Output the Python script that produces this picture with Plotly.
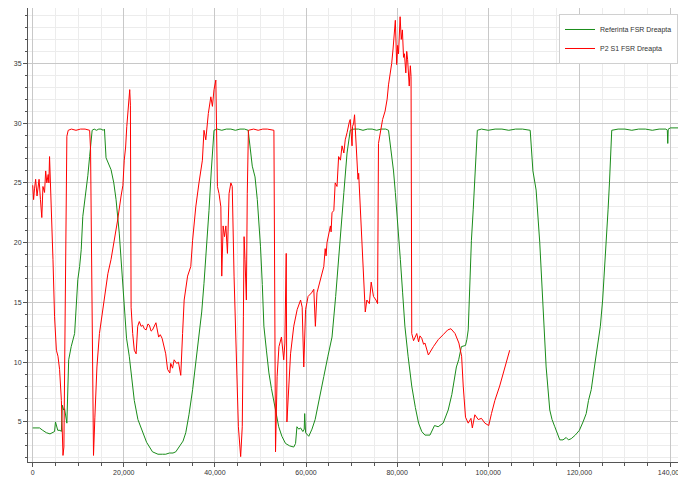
import plotly.graph_objects as go

# Referinta FSR Dreapta (green)
ref_x = [0, 800, 1500, 2200, 3000, 3800, 4400, 4800, 5000, 5300, 5500, 6000, 6300, 6500, 6800, 7000, 7300, 7500,
         7900, 8450, 9200, 9600, 9900, 10300, 10650, 11000, 11400, 11750, 12100, 12500, 12800, 13050,
         13500, 14000, 14500, 15000, 15500, 15750,
         16100, 16600, 17200, 17800, 18300, 19000, 19500, 20100, 20600, 21200, 21700, 22300, 23100, 24100, 25000,
         26300, 27500, 28500, 29200, 30000, 30800, 31400, 32200, 33000, 33600, 34300, 35100, 35800, 36500, 37100,
         37600, 38200, 38700, 39200, 39800,
         40500, 41500, 42500, 43500, 44500, 45500, 46500, 47300,
         48200, 48800, 49300, 50000, 50400, 50750, 51300, 51850, 52400, 52950, 53500, 54000, 54700, 55500, 56400,
         57300, 57700, 58000, 58400, 58800, 59300, 59600, 59700, 59800, 59900, 60600, 61300, 62000, 62900, 63900,
         64800, 65700, 66500, 67200, 67800, 68300, 69000, 69700,
         70500, 71500, 72500, 73500, 74500, 75500, 76500, 77500, 78100,
         78800, 79200, 79600, 80200, 80700, 81200, 81700, 82400, 83200, 84000, 84700, 85400, 86100, 87200, 87700,
         88200, 89000, 90100, 90700, 91200, 92000, 92500, 93000, 93500, 94100, 95000, 95300, 95600, 95900, 96300,
         96700, 97000, 97300, 97600,
         98500, 100000, 101500, 103000, 104500, 106000, 107500, 109200,
         109800, 110500, 111300, 112000, 112700, 113500, 114000, 114600, 115200, 115700, 116400, 117100, 117600,
         118200, 119100, 120000, 120800, 121500, 122000, 122600, 123300, 124000, 124600, 125100, 125500, 125900,
         126300, 126600, 126900, 127100,
         128500, 130000, 131500, 133000, 134500, 136000, 137500, 139000, 139300, 139400, 139500, 140000, 143500]
ref_y = [4.5, 4.5, 4.5, 4.3, 4.1, 4.0, 4.1, 4.2, 5.0, 4.6, 4.3, 4.3, 4.2, 6.4, 6.0, 6.1, 5.5, 4.9,
         10.2, 11.3, 12.4, 14.5, 16.9, 18.0, 19.4, 22.2, 23.5, 24.2, 25.6, 27.2, 28.5, 29.4,
         29.5, 29.4, 29.5, 29.5, 29.4, 29.5,
         27.1, 26.6, 26.1, 25.0, 23.6, 20.8, 18.0, 14.1, 12.0, 10.5, 8.8, 6.8, 5.2, 4.1, 3.3,
         2.5, 2.3, 2.3, 2.3, 2.4, 2.4, 2.5, 3.0, 3.4, 4.1, 5.6, 7.7, 10.0, 12.4, 14.2,
         16.6, 19.8, 22.7, 26.0, 29.4,
         29.5, 29.4, 29.5, 29.5, 29.4, 29.5, 29.5, 29.4,
         26.4, 25.5, 23.6, 19.7, 16.5, 13.0, 11.0, 9.1, 7.8, 6.6, 5.5, 4.6, 3.8, 3.2, 3.0,
         2.9, 3.2, 4.6, 4.4, 4.5, 4.2, 4.4, 5.7, 4.3, 4.1, 3.8, 4.4, 5.2, 6.8, 8.8,
         10.5, 12.1, 15.5, 18.6, 21.5, 24.2, 27.5, 29.4,
         29.5, 29.5, 29.4, 29.5, 29.5, 29.4, 29.5, 29.5, 29.4,
         27.2, 26.0, 24.2, 21.5, 18.6, 15.8, 13.0, 10.5, 8.0, 6.2, 4.9, 4.2, 3.9, 3.9, 4.3,
         4.7, 4.6, 4.9, 5.5, 6.0, 7.3, 8.6, 9.6, 10.2, 11.3, 11.4, 11.9, 12.7, 16.0, 20.2,
         22.8, 25.0, 27.5, 29.4,
         29.5, 29.4, 29.5, 29.5, 29.4, 29.5, 29.5, 29.4,
         26.0, 24.4, 20.0, 14.6, 9.6, 6.0, 5.2, 4.6, 3.9, 3.5, 3.5, 3.7, 3.5,
         3.6, 3.9, 4.3, 5.0, 5.7, 6.8, 7.7, 9.6, 11.3, 13.0, 15.2, 17.5, 20.2,
         22.8, 25.0, 27.5, 29.4,
         29.5, 29.5, 29.4, 29.5, 29.5, 29.4, 29.5, 29.5, 29.4, 28.3, 29.5, 29.6, 29.6]

# P2 S1 FSR Dreapta (red)
p2_x = [0, 200, 400, 650, 950, 1150, 1400, 1700, 2000, 2250, 2600, 2850, 3100, 3400, 3550, 3700, 3950, 4200,
        4450, 4800, 5200, 5550, 5900, 6300, 6650, 6850, 7200, 7500, 7800,
        8500, 9500, 10500, 11500, 12500,
        12700, 13050, 13350, 13650, 14100, 14650, 15200, 15750, 16500, 17200, 17950, 18650, 19400, 19800, 20100,
        20400, 20650, 20900, 21100, 21300, 21450, 21600, 21950, 22300, 22700, 23050, 23400, 23800, 24150, 24500,
        24900, 25300, 25600, 26000, 26300, 27050, 27650, 28000, 28400, 28800, 29200, 29600, 30100, 30300, 30700,
        31050, 31600, 32000, 32300, 32500, 32900, 33250, 34000, 34700, 35100, 35800, 36500, 37000, 37250, 37600,
        38000, 38550, 39100, 39450, 39800, 40200, 40300, 40550, 40900, 41300, 41500, 41800, 42100, 42400, 42750,
        43100, 43500, 43800, 44200, 44700, 45150, 45650, 46000, 46250, 46400, 46600, 46900, 47100, 47350,
        48500, 49500, 50500, 51500, 52950,
        53100, 53300, 53650, 54050, 54600, 55100, 55350, 55650, 55800, 56100, 56600, 57300, 58050, 58800, 59150,
        59500, 59900, 60450, 61200, 61700, 62050, 62400, 63150, 63900, 64200, 64400, 64600, 65350, 65500, 65700,
        66100, 66400, 66800,
        67150, 67550, 67900, 68300, 68600, 69000, 69200, 69500, 69700, 69950, 70100, 70200, 70450, 70650, 70950,
        71400, 71550, 71900, 72250, 72600, 73000, 73350, 73600, 73900, 74300, 74800, 75350, 75700, 75900, 76300,
        76650, 76800, 77350, 77800, 78100, 78500, 78800, 79100, 79300, 79600, 79900, 80100, 80300, 80650, 80900,
        81150, 81400, 81600, 81900, 82100, 82300, 82650, 82900, 83050, 83200, 83600, 83950, 84300, 84700, 85000,
        85400, 85800, 86100, 86850, 87950, 89050, 90100, 91100, 91800, 92700, 93550, 94150, 94500, 95000, 95600,
        96200, 96500, 97050, 97800, 98500, 99250, 100100, 100700, 101450, 102500, 103600, 104700]
p2_y = [24.8, 23.6, 24.5, 25.3, 23.9, 24.8, 25.3, 23.6, 22.1, 24.7, 24.2, 26.0, 25.0, 25.7, 25.0, 27.2, 24.7, 22.2,
        18.6, 13.8, 11.0, 10.5, 9.4, 6.8, 2.2, 2.9, 15.2, 28.9, 29.4,
        29.5, 29.4, 29.5, 29.5, 29.4,
        27.8, 15.2, 2.2, 5.4, 9.6, 12.4, 14.0, 15.2, 17.4, 18.6, 20.2, 21.9, 23.9, 24.8, 26.9,
        28.0, 29.7, 31.0, 32.0, 32.8, 31.5, 14.6, 12.4, 11.0, 10.7, 13.0, 13.4, 13.0, 13.1, 12.8,
        12.7, 13.2, 13.1, 12.6, 12.7, 13.3, 12.1, 12.3, 12.0, 11.4, 10.7, 9.4, 9.1, 9.9, 9.5,
        10.2, 9.9, 10.0, 9.5, 8.9, 12.4, 15.2, 17.2, 18.0, 20.2, 23.0, 25.0, 26.2, 26.9, 29.4,
        28.6, 30.8, 32.2, 31.4, 32.8, 33.6, 31.1, 24.7, 24.1, 23.0, 17.2, 21.4, 20.5, 21.4, 19.1,
        24.1, 25.0, 24.7, 17.2, 10.2, 4.6, 2.1, 4.6, 13.8, 20.5, 18.6, 15.2, 24.1, 29.4,
        29.5, 29.4, 29.5, 29.5, 29.4,
        15.8, 2.5, 8.8, 11.3, 12.1, 10.2, 11.6, 19.1, 5.0, 7.4, 10.7, 13.0, 14.4, 15.2, 14.6,
        9.6, 14.4, 15.5, 15.8, 16.1, 13.0, 15.8, 16.9, 18.0, 19.5, 18.9, 20.0, 21.4, 20.9, 22.5,
        22.7, 25.0, 24.7,
        27.2, 26.9, 28.1, 27.5, 28.6, 29.2, 29.7, 30.1, 30.3, 28.6, 28.1, 29.7, 30.0, 30.7, 28.1,
        25.3, 25.8, 22.7, 20.8, 16.9, 14.2, 15.2, 15.1, 14.9, 16.7, 15.5, 15.2, 14.9, 28.3, 29.2,
        29.7, 30.3, 31.0, 32.0, 33.2, 34.2, 35.0, 36.2, 37.0, 38.6, 34.9, 36.5, 35.8, 38.9, 37.0,
        37.8, 35.5, 35.8, 34.2, 36.0, 35.3, 33.1, 34.8, 33.9, 12.4, 11.8, 12.1, 12.4, 11.7, 12.2,
        12.0, 11.5, 11.6, 10.6, 11.3, 11.9, 12.3, 12.7, 12.8, 12.4, 11.6, 10.5, 8.0, 5.4, 4.9,
        5.3, 4.5, 5.6, 5.2, 5.3, 4.9, 4.7, 5.7, 6.8, 8.0, 9.6, 11.0]

x_ticks = [0, 20000, 40000, 60000, 80000, 100000, 120000, 140000]
y_ticks = [5, 10, 15, 20, 25, 30, 35]

fig = go.Figure()
fig.add_trace(go.Scatter(x=ref_x, y=ref_y, mode="lines", name="Referinta FSR Dreapta",
                         line=dict(color="#1a8c1a", width=1)))
fig.add_trace(go.Scatter(x=p2_x, y=p2_y, mode="lines", name="P2 S1 FSR Dreapta",
                         line=dict(color="#ff0000", width=1)))

FONT = "Liberation Sans, Arial, sans-serif"
tickfont = dict(family=FONT, size=7, color="#333333")

# page body has an 8px margin, so the figure is sized/offset to compensate
fig.update_layout(
    width=686, height=471,
    margin=dict(l=20, r=8, t=0, b=17, pad=0),
    paper_bgcolor="white", plot_bgcolor="white",
    showlegend=True,
    legend=dict(x=0.807, y=0.9868, xanchor="left", yanchor="top",
                bgcolor="white", bordercolor="#d0d0d0", borderwidth=1,
                font=dict(family=FONT, size=7, color="#333333"),
                itemwidth=30, tracegroupgap=0),
    xaxis=dict(range=[-1030, 143400], tickvals=x_ticks, tickformat=",d",
               showgrid=True, gridcolor="#c8c8c8", gridwidth=1,
               zeroline=False, showline=True, linecolor="#555555", linewidth=1,
               ticks="outside", ticklen=4, tickcolor="#555555", tickfont=tickfont,
               ticklabeloverflow="allow",
               minor=dict(dtick=5000, tick0=0, showgrid=True, gridcolor="#ececec",
                          ticks="outside", ticklen=3, tickcolor="#555555"),
               automargin=False, fixedrange=True),
    yaxis=dict(range=[1.65, 39.63], tickvals=y_ticks,
               showgrid=True, gridcolor="#c8c8c8", gridwidth=1,
               zeroline=False, showline=True, linecolor="#555555", linewidth=1,
               ticks="outside", ticklen=4, tickcolor="#555555", tickfont=tickfont,
               minor=dict(dtick=1, tick0=0, showgrid=True, gridcolor="#ececec",
                          ticks="outside", ticklen=2, tickcolor="#555555"),
               automargin=False, fixedrange=True),
)

fig.write_html("out.html")
